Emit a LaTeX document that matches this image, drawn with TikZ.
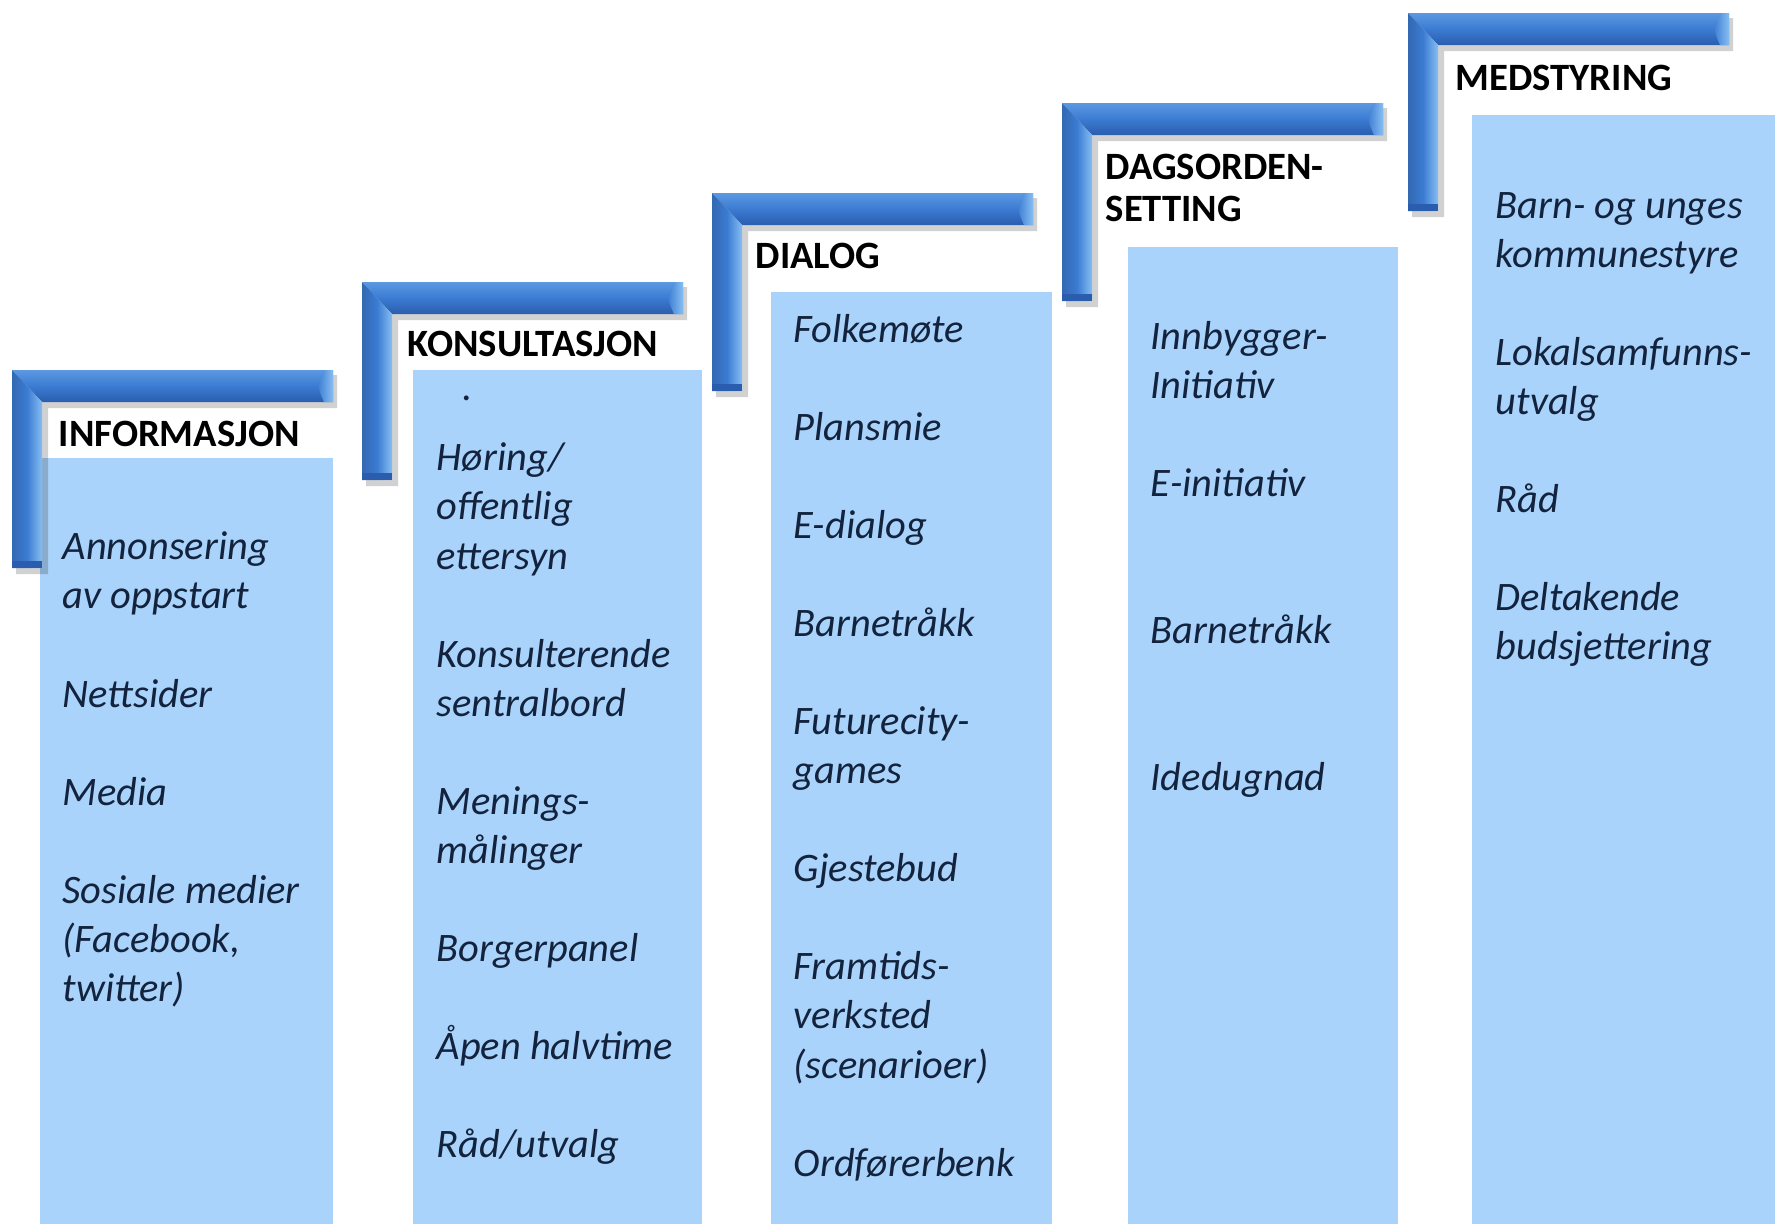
\documentclass[tikz,border=0pt]{standalone}
\usepackage{fontspec}
\setmainfont{Carlito}
\usepackage{tikz}
\definecolor{barmid}{HTML}{3B7BD2}
\definecolor{barlight}{HTML}{5C99E2}
\definecolor{bardark}{HTML}{2A5DAE}
\definecolor{barglow}{HTML}{86BEF2}
\definecolor{stepfill}{HTML}{A9D3FA}
\definecolor{itemtext}{HTML}{13233D}
\def\stair(#1,#2){%
  \begin{scope}[shift={(#1,#2)}]
    \fill[black,opacity=0.18] (4,5) -- (325,5) -- (325,38) -- (36,38) -- (36,204) -- (4,204) -- cycle;
    \shade[top color=barlight,bottom color=bardark,middle color=barmid] (0,0) -- (321,0) -- (321,32) -- (30,32) -- cycle;
    \shade[left color=barmid!85!black,right color=barglow,middle color=barmid] (0,0) -- (30,32) -- (30,198) -- (0,198) -- cycle;
    \shade[left color=barmid,right color=barglow] (312,0) .. controls (305,16) .. (312,32) -- (321,32) -- (321,0) -- cycle;
    \fill[bardark] (0,191) -- (30,191) -- (30,198) -- (0,198) -- cycle;
  \end{scope}}
\tikzset{
  stepbox/.style={fill=stepfill},
  firstline/.style={anchor=north west,yshift=9pt,inner sep=0pt,align=left,execute at begin node={\rule{0pt}{9pt}}},
  head/.style={firstline,font=\bfseries\fontsize{11}{11.9}\selectfont},
  items/.style={firstline,text=itemtext,font=\itshape\fontsize{11.5}{13.95}\selectfont}
}

\begin{document}
\begin{tikzpicture}[x=0.01cm,y=-0.01cm]
  \useasboundingbox (0,0) rectangle (1775,1224);
  % light blue steps
  \fill[stepbox] (40,458) rectangle (333,1224);
  \fill[stepbox] (413,370) rectangle (702,1224);
  \fill[stepbox] (771,292) rectangle (1052,1224);
  \fill[stepbox] (1128,247) rectangle (1398,1224);
  \fill[stepbox] (1472,115) rectangle (1775,1224);
  % brackets
  \stair(12,370);
  \stair(362,282);
  \stair(712,193);
  \stair(1062,103);
  \stair(1408,13);
  % headings
  \node[head] (infohead) at (58,446) {INFORMASJON};
  \node[head] (konshead) at (407,356) {KONSULTASJON};
  \node[head] (dialhead) at (755,268) {DIALOG};
  \node[head] (dagshead) at (1105,185) {DAGSORDEN-\\SETTING};
  \node[head] (medshead) at (1455,90) {MEDSTYRING};
  % lists
  \node[items] (info) at (62,563) {Annonsering\\av oppstart\\[\baselineskip]Nettsider\\[\baselineskip]Media\\[\baselineskip]Sosiale medier\\(Facebook,\\twitter)};
  \node[items] (konsdot) at (462,400) {.};
  \node[items] (kons) at (436,474) {Høring/\\offentlig\\ettersyn\\[\baselineskip]Konsulterende\\sentralbord\\[\baselineskip]Menings-\\målinger\\[\baselineskip]Borgerpanel\\[\baselineskip]Åpen halvtime\\[\baselineskip]Råd/utvalg};
  \node[items] (dial) at (793,345) {Folkemøte\\[\baselineskip]Plansmie\\[\baselineskip]E-dialog\\[\baselineskip]Barnetråkk\\[\baselineskip]Futurecity-\\games\\[\baselineskip]Gjestebud\\[\baselineskip]Framtids-\\verksted\\(scenarioer)\\[\baselineskip]Ordførerbenk};
  \node[items] (dags) at (1150,352) {Innbygger-\\Initiativ\\[\baselineskip]E-initiativ\\[2\baselineskip]Barnetråkk\\[2\baselineskip]Idedugnad};
  \node[items] (meds) at (1495,223) {Barn- og unges\\kommunestyre\\[\baselineskip]Lokalsamfunns-\\utvalg\\[\baselineskip]Råd\\[\baselineskip]Deltakende\\budsjettering};
\end{tikzpicture}
\end{document}
